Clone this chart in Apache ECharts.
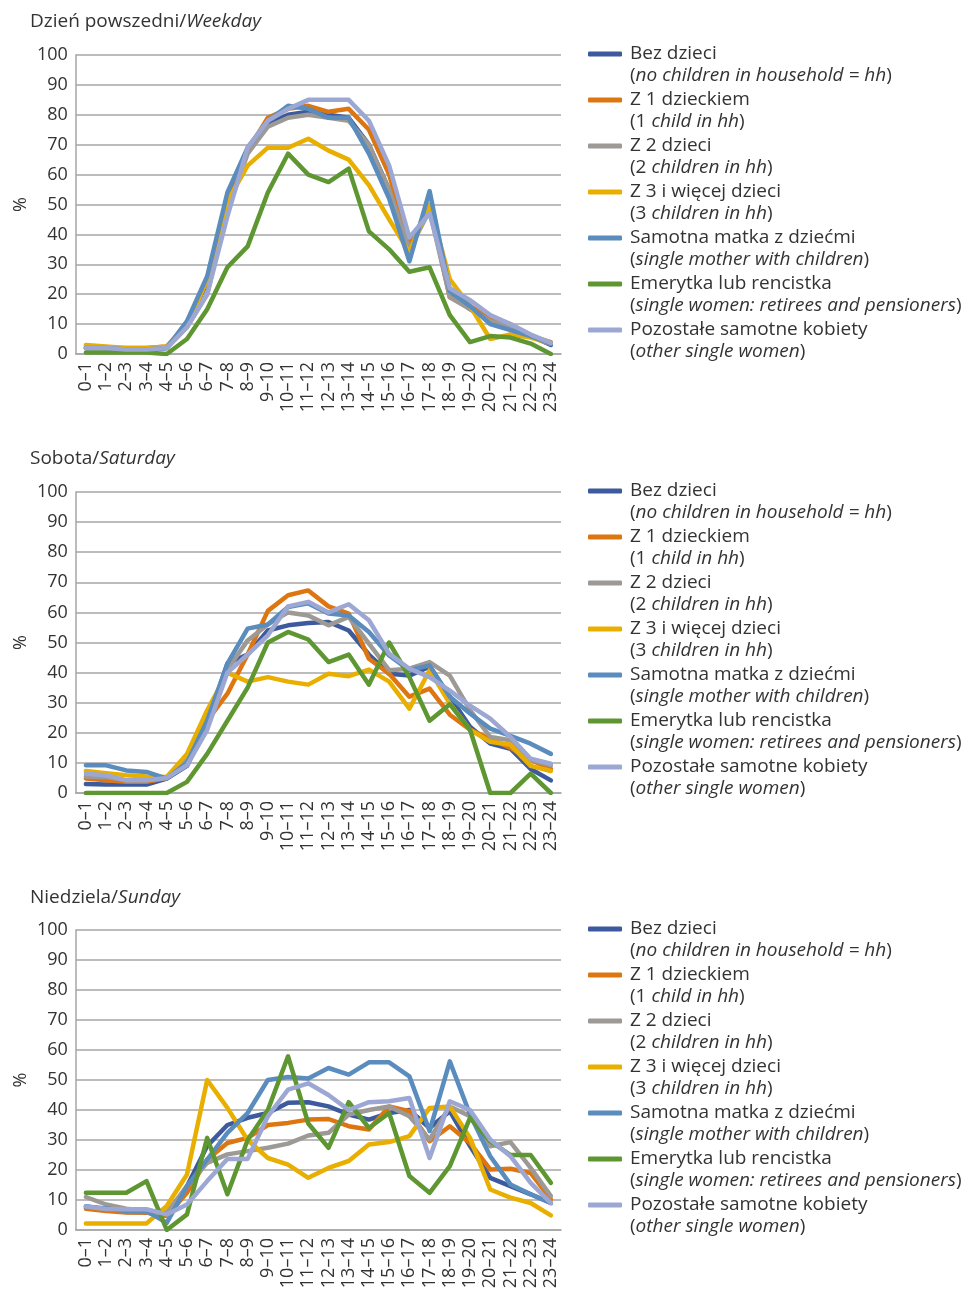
<!DOCTYPE html>
<html>
<head>
<meta charset="utf-8">
<script src="https://cdn.jsdelivr.net/npm/echarts@6/dist/echarts.min.js"></script>
<style>
html,body{margin:0;padding:0;background:#fff;}
#chart{width:974px;height:1295px;}
</style>
</head>
<body>
<div id="chart"></div>
<script>
// ---- Data ----
const hours = ['0–1','1–2','2–3','3–4','4–5','5–6','6–7','7–8','8–9','9–10','10–11','11–12','12–13','13–14','14–15','15–16','16–17','17–18','18–19','19–20','20–21','21–22','22–23','23–24'];
const yTicks = [0,10,20,30,40,50,60,70,80,90,100];

const seriesNamesPl = ['Bez dzieci','Z 1 dzieckiem','Z 2 dzieci','Z 3 i więcej dzieci','Samotna matka z dziećmi','Emerytka lub rencistka','Pozostałe samotne kobiety'];
const seriesNamesEnPrefix = ['','1 ','2 ','3 ','','',''];
const seriesNamesEnItalic = ['no children in household = hh','child in hh','children in hh','children in hh','single mother with children','single women: retirees and pensioners','other single women'];

const panelTitlesPl = ['Dzień powszedni/','Sobota/','Niedziela/'];
const panelTitlesEn = ['Weekday','Saturday','Sunday'];

// Weekday
const wdNoChildren = [2,2,1.5,1.5,2,10,24,50,68,77,80,81,80,79,70,55,35,49,20,15,11,9,6,3];
const wdOneChild   = [2.5,2,2,2,2.5,10,25,50,68,79,82,83,81,82,75,60,36.5,49.5,19,16,12,10,6,4];
const wdTwoChildren= [2,2,1.5,1.5,2,9,20,48,67,76,79,80,79,78,70,55,35,48,19,15,11,9,6,3.5];
const wdThreePlus  = [3,2.5,2,2,2.5,9,25,51,63,69,69,72,68,65,56.5,45,34,50,25,16,5,6.5,5.5,3.5];
const wdSingleMother=[2,2,1.5,1.5,2,11,26,54,69,78,83,82,79,79,67,52,31,54.5,21,16,10,8,6,3.5];
const wdRetiree    = [0.5,0.5,0.5,0.5,0,5,15,29,36,54,67,60,57.5,62,41,35,27.5,29,13,4,6,5.5,3.5,0];
const wdOtherSingle= [2,2,1.5,1.5,2,9,20,46,69,78,82,85,85,85,78,63,39,47,22,18,13,10,6.5,3.7];

// Saturday
const satNoChildren = [3,2.8,2.8,2.8,4.8,9,23,43,46,54,55.7,56.5,56.8,54,46,39.6,39,42,32,22,16.4,14.7,8,4.2];
const satOneChild   = [4.8,4.2,3.7,3.7,5,11,24,33,46,60.5,65.7,67.3,62,59.6,44.6,39.6,32,34.7,26,21,18,15,11,8];
const satTwoChildren= [5.5,5.3,4.2,4.2,5.3,11.4,26,41,50.7,56,60,59,55.7,58.5,49.6,40.8,41.3,43.5,39,27.5,18.6,17.5,11,9.2];
const satThreePlus  = [7.3,6.6,5.9,5.5,5.3,13,27.5,40,37,38.5,37,36,39.6,38.8,41,37,28,40.8,29.7,21,17,16,9,7.3];
const satSingleMother=[9.2,9.2,7.5,7,4.8,10,24,43,54.6,56,61.8,63,59.6,59,53.5,45.7,40.8,42.4,32,26.4,21.4,19,16.4,13];
const satRetiree    = [0,0,0,0,0,3.7,13,24,35,50,53.5,51,43.5,46,36,50,38.5,24,29.5,21,0,0,6.4,0];
const satOtherSingle= [6.4,5.9,4.2,4.2,5,9.2,21,40,46,52.4,62,63.5,60,62.7,57.4,46.3,41.3,38.5,34,29,24.7,18.6,11.4,9.7];

// Sunday
const sunNoChildren = [7.8,6.9,6,5.8,4.7,14.6,28,35,37.4,39,42.4,42.6,41.2,38.5,36.8,39,40,34,39.6,28,17.4,14.6,11.9,9];
const sunOneChild   = [7.1,6.3,5.8,5.8,4.7,12.4,23.5,29,30.7,35,35.7,36.8,37,34.6,33.5,41.2,39.6,29.6,34.6,29,20.2,20.4,19,10.2];
const sunTwoChildren= [11,8.5,7.1,6.3,5.8,14.6,22.4,25.2,26.3,27.4,28.8,31.5,32.4,38.5,40,41.2,37.9,30.2,41.2,37.9,27.9,29.3,20.7,11.3];
const sunThreePlus  = [2.2,2.2,2.2,2.2,8,18.5,50,40.7,30,24,21.8,17.4,20.7,23,28.5,29.3,31.3,40.7,41.2,30.7,13.5,10.8,9,4.9];
const sunSingleMother=[7.8,7.2,6.3,6.3,2.4,14.6,23.5,32.4,39,50,51,50.5,54,51.8,55.9,55.9,51.2,33,56.2,38.5,24.6,15.2,11.9,9];
const sunRetiree    = [12.4,12.4,12.4,16.3,0,5.2,30.7,11.9,30,40,57.9,35.5,27.4,42.6,34,39,18,12.4,21.3,37.4,29.6,25,25,15.7];
const sunOtherSingle= [7.8,7,6.9,6.9,5.2,8.5,16.3,23.7,23.7,37.9,46.8,48.9,45,40,42.6,42.9,44,24,42.9,40,30.2,24.6,15.7,9];

const panels = [
  [wdNoChildren, wdOneChild, wdTwoChildren, wdThreePlus, wdSingleMother, wdRetiree, wdOtherSingle],
  [satNoChildren, satOneChild, satTwoChildren, satThreePlus, satSingleMother, satRetiree, satOtherSingle],
  [sunNoChildren, sunOneChild, sunTwoChildren, sunThreePlus, sunSingleMother, sunRetiree, sunOtherSingle]
];

// ---- Styling ----
const colors = ['#3D5A9E','#DD7611','#9D9995','#E9AF00','#5A8CBE','#5E9632','#9CA8D3'];
const FONT = 'Open Sans';
const TXT = '#333333';
const gridTops = [55, 492, 930];
const gridHeights = [299, 301, 300];
const titleTops = [7, 444, 883];
const legendTops = [21, 458, 896];
const LH = 22;

const chart = echarts.init(document.getElementById('chart'), null, {renderer:'canvas'});

const grids = [], xAxes = [], yAxes = [], series = [], titles = [], legends = [];
const richText = {
  a: {fontFamily: FONT, fontSize: 19, color: TXT, lineHeight: LH},
  n: {fontFamily: FONT, fontSize: 19, color: TXT, lineHeight: LH},
  i: {fontFamily: FONT, fontSize: 19, color: TXT, lineHeight: LH, fontStyle: 'italic'}
};

panels.forEach((panel, p) => {
  grids.push({left: 71, width: 490, top: gridTops[p], height: gridHeights[p], containLabel: false});
  xAxes.push({
    type: 'category', gridIndex: p, data: hours, boundaryGap: true,
    axisLine: {show: true, lineStyle: {color: '#A6A6A6', width: 1.5}},
    axisTick: {show: false},
    axisLabel: {interval: 0, rotate: 90, margin: 8, fontFamily: FONT, fontSize: 18, color: TXT}
  });
  yAxes.push({
    type: 'value', gridIndex: p, min: yTicks[0], max: yTicks[yTicks.length-1], interval: 10,
    name: '%', nameLocation: 'middle', nameGap: 46,
    nameTextStyle: {fontFamily: FONT, fontSize: 18, color: TXT},
    axisLine: {show: true, lineStyle: {color: '#A6A6A6', width: 1.5}},
    axisTick: {show: false},
    axisLabel: {margin: 8, fontFamily: FONT, fontSize: 18, color: TXT},
    splitLine: {show: true, lineStyle: {color: '#A6A6A6', width: 1.5}}
  });
  panel.forEach((values, s) => {
    series.push({
      type: 'line', name: seriesNamesPl[s], xAxisIndex: p, yAxisIndex: p,
      data: values, symbol: 'none', showSymbol: false, smooth: false,
      color: colors[s],
      lineStyle: {width: 4.5, color: colors[s], join: 'round', cap: 'round'},
      emphasis: {disabled: true}, silent: true, animation: false
    });
  });
  titles.push({
    left: 25, top: titleTops[p],
    text: '{n|' + panelTitlesPl[p] + '}{i|' + panelTitlesEn[p] + '}',
    textStyle: {fontWeight: 'normal', rich: {
      n: {fontFamily: FONT, fontSize: 19, color: TXT, fontWeight: 'normal'},
      i: {fontFamily: FONT, fontSize: 19, color: TXT, fontWeight: 'normal', fontStyle: 'italic'}
    }}
  });
  legends.push({
    orient: 'vertical', left: 588, top: legendTops[p], padding: 0,
    itemGap: -20, itemWidth: 34, itemHeight: 5, icon: 'roundRect',
    data: seriesNamesPl.slice(),
    selectedMode: false,
    formatter: function (name) {
      const k = seriesNamesPl.indexOf(name);
      return '{a|' + name + '}\n{n|(' + seriesNamesEnPrefix[k] + '}{i|' + seriesNamesEnItalic[k] + '}{n|)}';
    },
    textStyle: {fontFamily: FONT, fontSize: 19, color: TXT, lineHeight: LH, padding: [LH, 0, 0, 3], rich: richText}
  });
});

chart.setOption({
  animation: false,
  backgroundColor: '#ffffff',
  title: titles,
  legend: legends,
  grid: grids,
  xAxis: xAxes,
  yAxis: yAxes,
  series: series
});
</script>
</body>
</html>
